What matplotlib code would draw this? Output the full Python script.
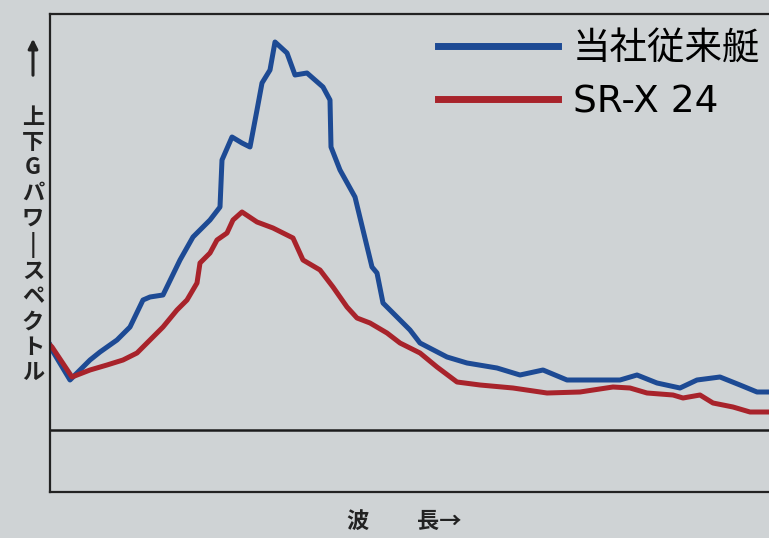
import matplotlib
matplotlib.use("Agg")
import matplotlib.pyplot as plt

# Values (wavelength position, vertical G power), arbitrary units.
blueX = [0, 2, 20, 40, 50, 67, 80, 93, 100, 113, 130, 143, 160, 170, 172, 182, 192, 200,
         207, 212, 220, 225, 237, 245, 257, 273, 280, 281, 290, 305, 313, 322, 327, 333,
         343, 360, 370, 397, 417, 447, 470, 493, 517, 543, 570, 587, 607, 630, 647, 670,
         690, 707, 719]
blueY = [85, 80, 50, 70, 78, 90, 103, 130, 133, 135, 170, 193, 210, 223, 270, 293, 287, 283,
         320, 347, 360, 388, 377, 355, 357, 343, 330, 283, 260, 233, 200, 163, 157, 127,
         117, 100, 87, 73, 67, 62, 55, 60, 50, 50, 50, 55, 47, 42, 50, 53,
         45, 38, 38]

redX = [0, 2, 22, 40, 57, 73, 87, 100, 113, 127, 137, 147, 150, 160, 167, 177, 183, 192,
        207, 223, 243, 253, 270, 283, 297, 307, 320, 337, 350, 370, 387, 407, 430, 463,
        497, 530, 563, 580, 597, 623, 633, 650, 663, 683, 700, 719]
redY = [85, 83, 53, 60, 65, 70, 77, 90, 103, 120, 130, 147, 167, 177, 190, 197, 210, 218,
        208, 202, 192, 170, 160, 143, 123, 112, 107, 97, 87, 77, 63, 48, 45, 42,
        37, 38, 43, 42, 37, 35, 32, 35, 27, 23, 18, 18]

seriesLabels = ["当社従来艇", "SR-X 24"]
yLabelText = "上\n下\nG\nパ\nワ\n|\nス\nペ\nク\nト\nル"

bgColor = "#cfd3d5"
inkColor = "#222222"
cjkFamily = ["Noto Sans CJK JP", "DejaVu Sans"]

fig = plt.figure(figsize=(7.69, 5.38), dpi=100, facecolor=bgColor)
ax = fig.add_axes([50 / 769, 46 / 538, 740 / 769, 478 / 538])
ax.set_facecolor(bgColor)

ax.plot(blueX, blueY, color="#1d4a94", linewidth=3.6, label=seriesLabels[0], solid_joinstyle="round")
ax.plot(redX, redY, color="#a8232b", linewidth=3.6, label=seriesLabels[1], solid_joinstyle="round")

# Baseline inside the frame.
ax.axhline(0, color="#1c1c1c", linewidth=1.8)

ax.set_xlim(0, 740)
ax.set_ylim(-62, 416)
ax.set_xticks([])
ax.set_yticks([])
for s in ax.spines.values():
  s.set_color(inkColor)
  s.set_linewidth(1.6)

# Latin text goes to the wider DejaVu Sans, kanji falls back to Noto CJK.
leg = ax.legend(loc="upper left", bbox_to_anchor=(438 / 769, 1 - 31 / 538),
                bbox_transform=fig.transFigure, frameon=False,
                prop=dict(family=["DejaVu Sans", "Noto Sans CJK JP"], size=27),
                handlelength=3.2, handletextpad=0.4, labelspacing=0.46,
                borderpad=0, borderaxespad=0)
for line in leg.get_lines():
  line.set_linewidth(5)

# Vertical y label with a long arrow above it.
fig.text(33 / 769, 1 - 245 / 538, yLabelText, ha="center", va="center",
         family=cjkFamily, fontsize=16, fontweight="bold", linespacing=1.12,
         color=inkColor)
ax.annotate("", xy=(33 / 769, 1 - 36 / 538), xytext=(33 / 769, 1 - 78 / 538),
            xycoords="figure fraction", textcoords="figure fraction",
            arrowprops=dict(arrowstyle="-|>", color=inkColor, lw=2.2, mutation_scale=14))

# x label: 波   長→
fig.text(357 / 769, 1 - 521 / 538, "波", ha="center", va="center",
         family=cjkFamily, fontsize=16, fontweight="bold", color=inkColor)
fig.text(439 / 769, 1 - 521 / 538, "長→", ha="center", va="center",
         family=cjkFamily, fontsize=16, fontweight="bold", color=inkColor)

fig.savefig("out.png", dpi=100, facecolor=bgColor)
